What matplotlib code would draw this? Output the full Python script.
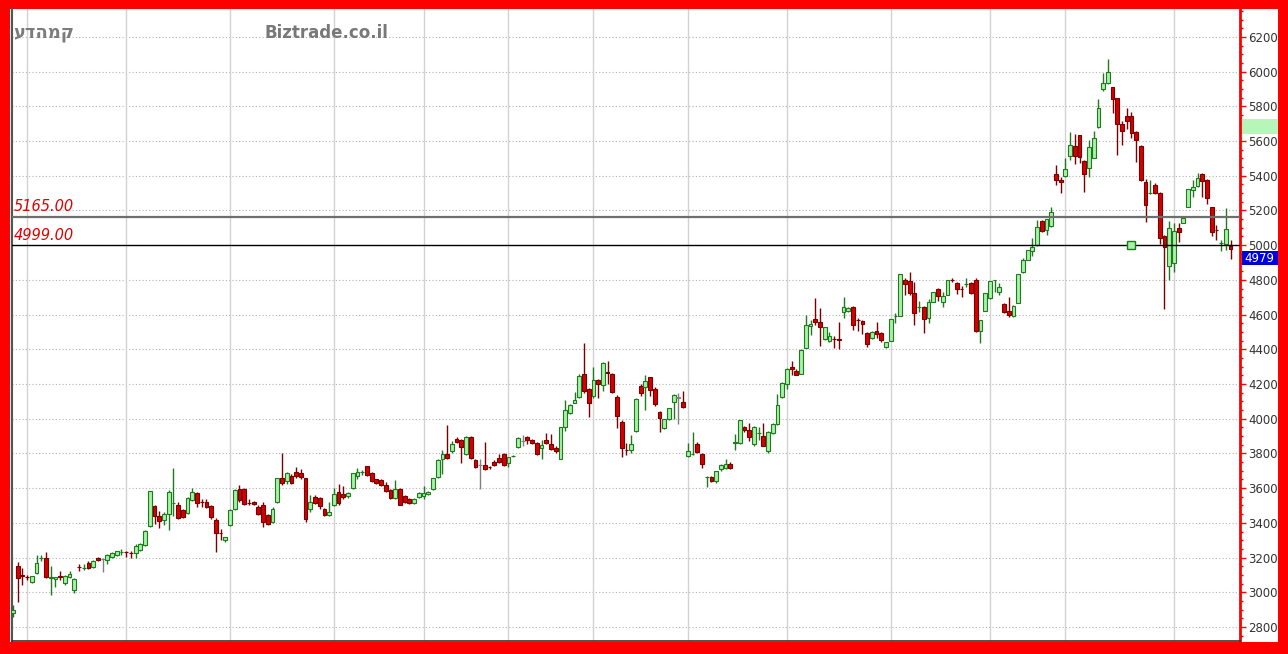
import numpy as np
import matplotlib
matplotlib.use("Agg")
import matplotlib.pyplot as plt
from matplotlib.patches import Rectangle
from matplotlib.ticker import MultipleLocator
import matplotlib.transforms as mtransforms

# ---------------------------
# Daily OHLC values
# ---------------------------
opens = [
    2880, 3150, 3100, 3090, 3060, 3110, 3195, 3197, 3080, 3076,
    3095, 3053, 3087, 3012, 3148, 3137, 3168, 3145, 3197, 3190,
    3185, 3203, 3214, 3230, 3232, 3227, 3226, 3243, 3272, 3381,
    3497, 3439, 3416, 3451, 3512, 3503, 3474, 3456, 3531, 3572,
    3522, 3520, 3497, 3416, 3343, 3300, 3387, 3479, 3595, 3595,
    3516, 3518, 3491, 3503, 3445, 3404, 3520, 3658, 3641, 3670,
    3693, 3687, 3658, 3479, 3549, 3543, 3479, 3445, 3503, 3577,
    3566, 3554, 3601, 3670, 3692, 3727, 3687, 3652, 3647, 3618,
    3589, 3543, 3595, 3554, 3537, 3514, 3549, 3556, 3566, 3595,
    3664, 3768, 3796, 3814, 3883, 3877, 3796, 3894, 3762, 3733,
    3733, 3723, 3750, 3774, 3796, 3744, 3783, 3837, 3870, 3894,
    3877, 3860, 3831, 3877, 3854, 3831, 3768, 3952, 4033, 4090,
    4125, 4258, 4171, 4131, 4223, 4194, 4268, 4258, 4125, 3981,
    3822, 3820, 3929, 4188, 4183, 4240, 4171, 4038, 3946, 3998,
    4096, 4120, 4096, 3785, 3796, 3854, 3796, 3662, 3664, 3641,
    3710, 3716, 3739, 3860, 3860, 3952, 3935, 3854, 3915, 3900,
    3814, 3917, 3969, 4125, 4200, 4298, 4275, 4258, 4407, 4534,
    4574, 4557, 4459, 4445, 4460, 4462, 4615, 4620, 4644, 4570,
    4563, 4494, 4465, 4505, 4494, 4413, 4448, 4590, 4592, 4799,
    4793, 4724, 4642, 4644, 4580, 4673, 4747, 4673, 4713, 4801,
    4782, 4749, 4774, 4782, 4799, 4505, 4621, 4696, 4797, 4730,
    4661, 4621, 4592, 4667, 4846, 4915, 4967, 5001, 5139, 5088,
    5111, 5410, 5376, 5399, 5514, 5572, 5635, 5485, 5445, 5503,
    5681, 5900, 5935, 5912, 5848, 5699, 5745, 5745, 5652, 5572,
    5364, 5299, 5347, 5301, 5053, 4880, 4897, 5099, 5128, 5220,
    5318, 5341, 5410, 5376, 5220, 5090, 5011, 5007, 4998,
]
highs = [
    2925, 3175, 3140, 3100, 3095, 3215, 3215, 3230, 3150, 3090,
    3120, 3100, 3120, 3080, 3165, 3165, 3180, 3185, 3205, 3195,
    3218, 3230, 3240, 3250, 3240, 3235, 3280, 3285, 3360, 3585,
    3500, 3470, 3465, 3590, 3716, 3520, 3480, 3550, 3600, 3580,
    3540, 3540, 3503, 3425, 3365, 3320, 3480, 3595, 3620, 3600,
    3535, 3525, 3500, 3520, 3450, 3490, 3660, 3802, 3695, 3680,
    3720, 3710, 3660, 3560, 3560, 3550, 3485, 3520, 3600, 3625,
    3615, 3580, 3690, 3718, 3705, 3730, 3695, 3655, 3655, 3635,
    3595, 3645, 3600, 3560, 3545, 3545, 3580, 3610, 3585, 3660,
    3765, 3820, 3964, 3870, 3895, 3885, 3898, 3900, 3765, 3765,
    3866, 3730, 3760, 3795, 3800, 3782, 3790, 3893, 3905, 3898,
    3882, 3865, 3880, 3915, 3910, 3840, 3955, 4110, 4082, 4155,
    4260, 4436, 4175, 4300, 4228, 4325, 4330, 4262, 4135, 3990,
    3860, 3905, 4117, 4200, 4250, 4242, 4180, 4042, 4000, 4064,
    4145, 4150, 4160, 3860, 3923, 3865, 3800, 3668, 3670, 3700,
    3740, 3770, 3750, 3910, 3995, 3960, 3975, 3960, 3955, 3975,
    3930, 3975, 4140, 4212, 4290, 4330, 4285, 4400, 4596, 4570,
    4696, 4640, 4530, 4500, 4475, 4555, 4700, 4645, 4650, 4578,
    4567, 4500, 4505, 4560, 4498, 4442, 4577, 4610, 4836, 4808,
    4845, 4788, 4676, 4648, 4690, 4732, 4755, 4730, 4801, 4810,
    4787, 4762, 4810, 4785, 4810, 4569, 4724, 4793, 4800, 4780,
    4665, 4700, 4655, 4836, 4925, 4975, 5040, 5145, 5143, 5153,
    5222, 5460, 5390, 5505, 5655, 5640, 5636, 5492, 5605, 5660,
    5840, 5990, 6073, 5913, 5850, 5713, 5790, 5770, 5656, 5575,
    5383, 5378, 5357, 5307, 5059, 5137, 5125, 5130, 5160, 5324,
    5375, 5415, 5414, 5380, 5222, 5118, 5028, 5214, 5028,
]
lows = [
    2857, 2945, 3040, 3070, 3055, 3105, 3180, 3082, 2985, 3030,
    3070, 3040, 3080, 2995, 3120, 3130, 3135, 3140, 3180, 3115,
    3160, 3195, 3210, 3215, 3205, 3200, 3200, 3240, 3268, 3375,
    3395, 3370, 3390, 3360, 3440, 3420, 3430, 3450, 3525, 3490,
    3490, 3485, 3420, 3231, 3300, 3290, 3380, 3475, 3520, 3505,
    3500, 3505, 3445, 3376, 3390, 3400, 3515, 3620, 3625, 3625,
    3660, 3655, 3404, 3460, 3510, 3480, 3440, 3440, 3498, 3505,
    3540, 3545, 3595, 3650, 3675, 3670, 3635, 3625, 3610, 3575,
    3540, 3538, 3500, 3515, 3508, 3508, 3545, 3540, 3560, 3590,
    3660, 3680, 3770, 3805, 3860, 3744, 3790, 3770, 3715, 3595,
    3705, 3712, 3725, 3745, 3730, 3720, 3778, 3830, 3840, 3855,
    3855, 3790, 3770, 3855, 3820, 3800, 3765, 3930, 4030, 4088,
    4120, 4150, 4010, 4120, 4120, 4160, 4200, 4150, 3946, 3779,
    3790, 3800, 3925, 4130, 4050, 4130, 4075, 3923, 3940, 3995,
    3998, 3970, 4060, 3780, 3790, 3800, 3715, 3606, 3635, 3630,
    3700, 3710, 3710, 3820, 3855, 3925, 3870, 3845, 3880, 3840,
    3800, 3912, 3965, 4120, 4170, 4250, 4250, 4255, 4405, 4480,
    4540, 4420, 4455, 4440, 4405, 4400, 4580, 4615, 4510, 4505,
    4490, 4415, 4460, 4465, 4440, 4410, 4445, 4550, 4590, 4710,
    4710, 4540, 4615, 4494, 4550, 4670, 4680, 4645, 4710, 4785,
    4720, 4700, 4760, 4720, 4500, 4436, 4618, 4690, 4730, 4710,
    4610, 4585, 4588, 4665, 4840, 4912, 4940, 4998, 5078, 5060,
    5105, 5345, 5300, 5395, 5490, 5470, 5475, 5307, 5390, 5500,
    5675, 5890, 5930, 5762, 5520, 5578, 5670, 5618, 5480, 5370,
    5134, 5296, 5295, 5007, 4632, 4799, 4845, 5020, 5125, 5218,
    5275, 5338, 5275, 5235, 5050, 5030, 4965, 4970, 4918,
]
closes = [
    2895, 3080, 3095, 3085, 3093, 3168, 3198, 3087, 3085, 3087,
    3090, 3093, 3105, 3076, 3143, 3141, 3139, 3180, 3185, 3190,
    3214, 3226, 3237, 3232, 3229, 3224, 3266, 3278, 3353, 3583,
    3439, 3410, 3451, 3577, 3516, 3428, 3433, 3543, 3577, 3514,
    3518, 3491, 3433, 3341, 3339, 3318, 3474, 3589, 3531, 3508,
    3512, 3510, 3451, 3404, 3393, 3479, 3658, 3629, 3687, 3629,
    3670, 3664, 3422, 3520, 3514, 3497, 3445, 3462, 3566, 3514,
    3549, 3572, 3687, 3693, 3695, 3675, 3641, 3629, 3618, 3583,
    3543, 3595, 3503, 3520, 3514, 3537, 3572, 3572, 3577, 3658,
    3762, 3796, 3774, 3854, 3866, 3837, 3894, 3774, 3721, 3733,
    3710, 3719, 3733, 3750, 3733, 3779, 3787, 3889, 3870, 3877,
    3860, 3796, 3848, 3860, 3825, 3814, 3952, 4050, 4079, 4108,
    4246, 4160, 4090, 4223, 4200, 4321, 4262, 4154, 4015, 3831,
    3818, 3854, 4114, 4148, 4217, 4165, 4085, 4004, 3998, 4062,
    4137, 4120, 4067, 3814, 3797, 3808, 3739, 3666, 3641, 3698,
    3733, 3739, 3716, 3866, 3992, 3935, 3894, 3952, 3919, 3843,
    3923, 3969, 4079, 4206, 4287, 4287, 4252, 4396, 4540, 4545,
    4557, 4528, 4528, 4476, 4458, 4456, 4644, 4640, 4540, 4566,
    4545, 4430, 4500, 4488, 4454, 4440, 4574, 4594, 4834, 4776,
    4724, 4609, 4646, 4575, 4673, 4730, 4707, 4707, 4799, 4797,
    4747, 4745, 4778, 4724, 4505, 4569, 4724, 4793, 4799, 4759,
    4615, 4598, 4650, 4834, 4915, 4972, 4990, 5105, 5082, 5151,
    5191, 5376, 5364, 5439, 5578, 5514, 5508, 5410, 5566, 5618,
    5791, 5935, 5998, 5843, 5699, 5658, 5716, 5647, 5606, 5376,
    5232, 5303, 5301, 5041, 4990, 5099, 5082, 5076, 5157, 5324,
    5335, 5387, 5370, 5272, 5076, 5086, 5015, 5093, 4979,
]

# candle index where each month starts (vertical grid lines)
month_starts = [3, 24, 46, 68, 87, 105, 123, 143, 164, 186, 207, 223, 246]

# horizontal level lines
level_values = [5165.00, 4999.00]
marker_index = 237          # small square sitting on the 4999 line
highlight_band = (5641, 5727)  # light green mark on the price scale

title_heb = "קמהדע"   # stored in logical order
title_site = "Biztrade.co.il"

# ---------------------------
# Figure / frame
# ---------------------------
W, H = 1288, 654
fig = plt.figure(figsize=(W / 100, H / 100), dpi=100)
fig.patch.set_facecolor("#ff0000")

bg = fig.add_axes([10 / W, 12 / H, (1278 - 10) / W, (645 - 12) / H])
bg.set_facecolor("white")
bg.set_xticks([])
bg.set_yticks([])
for s in bg.spines.values():
    s.set_visible(False)

ax = fig.add_axes([12 / W, 13 / H, 1228 / W, 632 / H])
ax.set_facecolor("white")

o = np.array(opens, float)
h = np.array(highs, float)
l = np.array(lows, float)
c = np.array(closes, float)
x = np.arange(len(o))

up = c > o
down = c < o

edge = np.where(up, "#1f7a1f", np.where(down, "#7a0000", "#808080"))
face = np.where(up, "#a6f2a6", np.where(down, "#d40000", "#808080"))

# grid
for y in range(2800, 6201, 200):
    ax.axhline(y, color="#b4b4b4", lw=0.8, ls=(0, (1, 2)), zorder=0)
for m in month_starts:
    ax.axvline(m, color="#d2d2d2", lw=1.0, zorder=0)

# wicks
ax.vlines(x, l, h, colors=edge, lw=1.0, zorder=2)

# bodies
bottom = np.minimum(o, c)
height = np.maximum(np.abs(c - o), 3)
ax.bar(x, height, bottom=bottom, width=0.8, color=face, edgecolor=edge,
       linewidth=0.8, zorder=3)

# level lines
ax.axhline(level_values[0], color="#6e6e6e", lw=1.6, zorder=4)
ax.axhline(level_values[1], color="#000000", lw=1.0, zorder=4)
tr = mtransforms.blended_transform_factory(ax.transAxes, ax.transData)
for v in level_values:
    ax.text(0.0012, v + 14, f"{v:.2f}", transform=tr, color="#e00000",
            fontstyle="italic", fontsize=10.5, va="bottom", ha="left", zorder=5)

ax.plot([marker_index], [level_values[1]], marker="s", ms=6,
        mfc="#a6f2a6", mec="#1f7a1f", mew=1.0, zorder=6)

# titles
ax.text(0.0012, 0.962, title_heb[::-1], transform=ax.transAxes,
        fontsize=13, fontweight="bold", color="#7c7c7c", va="center", ha="left")
ax.text(0.206, 0.962, title_site, transform=ax.transAxes,
        fontsize=12, fontweight="bold", color="#787878", va="center", ha="left")

# axes limits / spines
ax.set_xlim(-0.2, 260)
ax.set_ylim(2719, 6361)
ax.set_xticks([])
ax.spines["top"].set_visible(False)
ax.spines["left"].set_color("#555555")
ax.spines["left"].set_linewidth(1.5)
ax.spines["bottom"].set_color("#333333")
ax.spines["bottom"].set_linewidth(1.2)
ax.spines["right"].set_color("#ff0000")
ax.spines["right"].set_linewidth(2)

ax.yaxis.tick_right()
ax.set_yticks(range(2800, 6201, 200))
ax.yaxis.set_minor_locator(MultipleLocator(50))
ax.tick_params(axis="y", which="major", colors="#ff0000", length=4, width=1,
               labelcolor="#333333", labelsize=8.5, pad=2)
ax.tick_params(axis="y", which="minor", colors="#ff0000", length=2, width=1)

# light green mark on the scale
pw = 36 / 1228
ax.add_patch(Rectangle((1.0015, highlight_band[0]), pw, highlight_band[1] - highlight_band[0],
                       transform=tr, facecolor="#b8f5b8", edgecolor="none",
                       clip_on=False, zorder=6))

# last price label, placed just under the 5000 tick label
last = closes[-1]
top = last - 12
ax.add_patch(Rectangle((1.0015, top - 84), pw, 84, transform=tr,
                       facecolor="#0000dd", edgecolor="none", clip_on=False, zorder=7))
ax.text(1.0015 + pw / 2, top - 42, f"{last}", transform=tr, color="white",
        fontsize=8.5, ha="center", va="center", zorder=8, clip_on=False)

fig.savefig("out.png", dpi=100, facecolor=fig.get_facecolor())
